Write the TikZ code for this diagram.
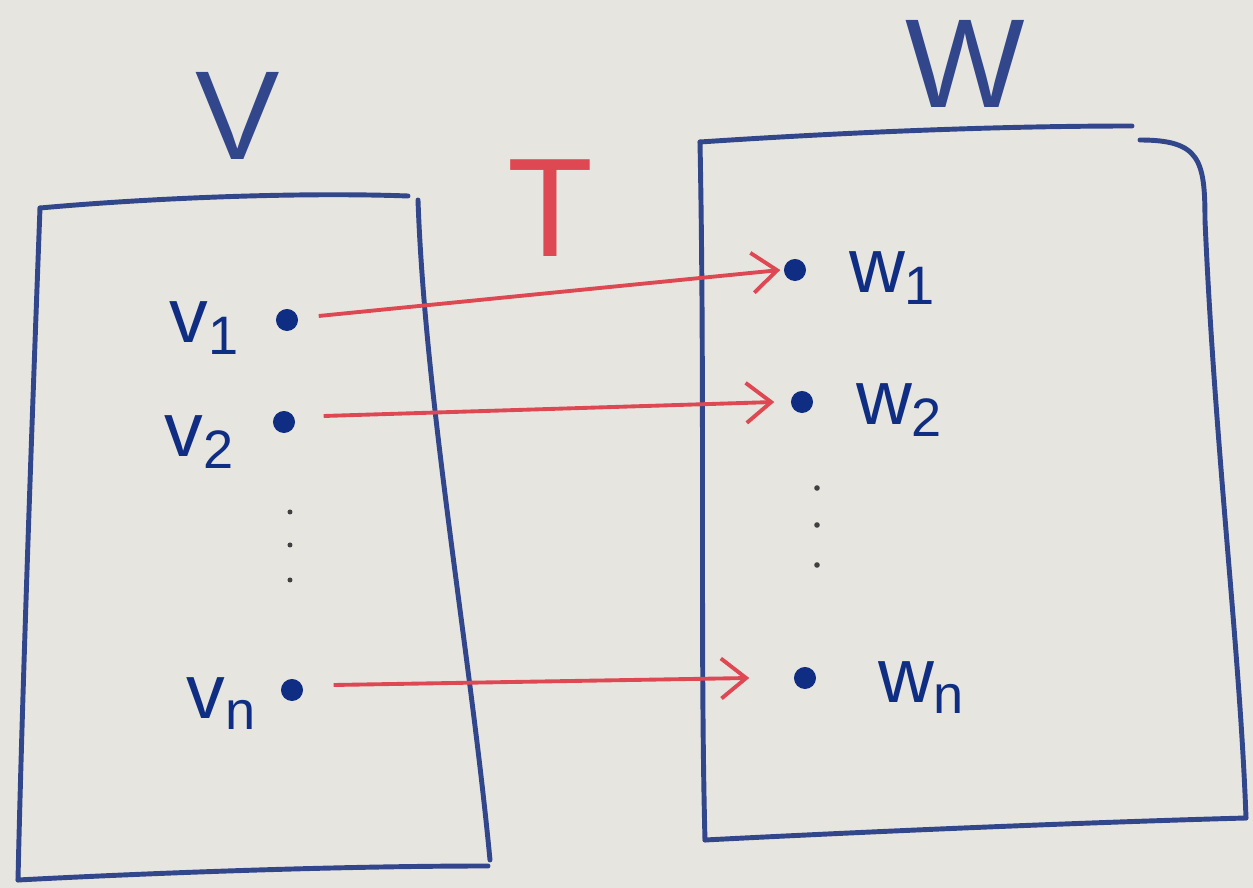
\documentclass[tikz,border=0pt]{standalone}
\usepackage{fontspec}
\setsansfont{Liberation Sans}
\usetikzlibrary{arrows.meta}

\definecolor{board}{RGB}{231,229,224}
\definecolor{ink}{RGB}{50,70,140}
\definecolor{dotink}{RGB}{15,45,130}
\definecolor{redink}{RGB}{222,72,82}

\tikzset{
  pt/.style={circle, fill=dotink, inner sep=0pt, minimum size=0.22cm},
  lbl/.style={font=\sffamily\fontsize{22}{22}\selectfont, text=dotink},
  big/.style={font=\sffamily\fontsize{36}{36}\selectfont, text=ink},
  boxline/.style={ink, line width=1.4pt, line cap=round, line join=round},
  mapto/.style={redink, line width=1.1pt, -{Straight Barb[length=2.5mm,width=4mm]}},
}

\begin{document}
\begin{tikzpicture}[x=0.01cm, y=-0.01cm]
  % board
  \fill[board] (0,0) rectangle (1253,888);
  \useasboundingbox (0,0) rectangle (1253,888);

  % space V
  \draw[boxline] (40,208) .. controls (150,198) and (300,192) .. (408,196);
  \draw[boxline] (40,208) .. controls (32,420) and (22,700) .. (18,880);
  \draw[boxline] (18,880) .. controls (170,872) and (350,866) .. (488,866);
  \draw[boxline] (418,200) .. controls (425,400) and (470,650) .. (490,860);
  \node[big] (V) at (238,116) {V};

  % space W
  \draw[boxline] (700,142) .. controls (850,132) and (1000,126) .. (1132,126);
  \draw[boxline] (700,142) .. controls (705,400) and (700,650) .. (705,840);
  \draw[boxline] (705,840) .. controls (900,830) and (1100,822) .. (1246,818);
  \draw[boxline] (1140,140) .. controls (1200,140) and (1205,160) .. (1205,220)
                 .. controls (1215,450) and (1240,650) .. (1246,818);
  \node[big] (W) at (965,64) {W};

  % map
  \node[big, text=redink, font=\sffamily\fontsize{40}{40}\selectfont] (T) at (550,208) {T};

  % basis of V
  \node[pt] (v1) at (287,320) {};
  \node[pt] (v2) at (284,422) {};
  \node[pt] (vn) at (292,690) {};
  \node[lbl] (lv1) at (205,328) {v\textsubscript{1}};
  \node[lbl] (lv2) at (200,442) {v\textsubscript{2}};
  \node[lbl] (lvn) at (222,704) {v\textsubscript{n}};
  \foreach \y in {512,545,580}
    \fill[black!75] (290,\y) circle (2.5);

  % basis of W
  \node[pt] (w1) at (795,270) {};
  \node[pt] (w2) at (802,402) {};
  \node[pt] (wn) at (805,678) {};
  \node[lbl] (lw1) at (893,278) {w\textsubscript{1}};
  \node[lbl] (lw2) at (900,410) {w\textsubscript{2}};
  \node[lbl] (lwn) at (922,688) {w\textsubscript{n}};
  \foreach \y in {488,525,565}
    \fill[black!75] (817,\y) circle (2.8);

  % images of the basis
  \draw[mapto] (v1.east) ++(20,-4) coordinate (s1) (s1) -- ([xshift=-0.03cm]w1.west);
  \draw[mapto] (v2.east) ++(28,-6) coordinate (s2) (s2) -- ([xshift=-0.16cm]w2.west);
  \draw[mapto] (vn.east) ++(30,-5) coordinate (sn) (sn) -- ([xshift=-0.44cm]wn.west);
\end{tikzpicture}
\end{document}
